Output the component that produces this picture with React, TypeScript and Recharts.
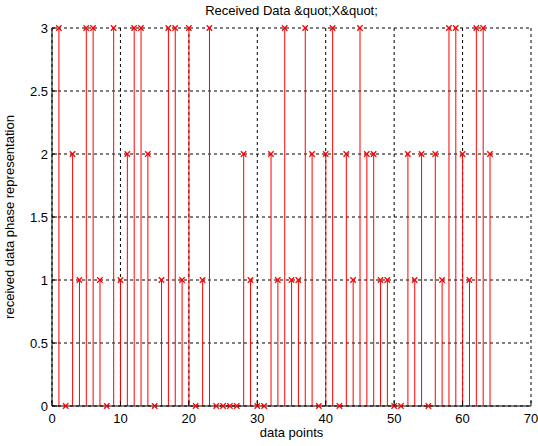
import { ComposedChart, Bar, Scatter, XAxis, YAxis, CartesianGrid } from 'recharts';

const WIDTH = 538;
const HEIGHT = 446;
const FONT = '"Liberation Sans", Arial, sans-serif';
const RED = '#ff0000';

// sample index along the received stream
const dataPoints = [
  1, 2, 3, 4, 5, 6, 7, 8, 9, 10, 11, 12, 13, 14, 15, 16,
  17, 18, 19, 20, 21, 22, 23, 24, 25, 26, 27, 28, 29, 30, 31, 32,
  33, 34, 35, 36, 37, 38, 39, 40, 41, 42, 43, 44, 45, 46, 47, 48,
  49, 50, 51, 52, 53, 54, 55, 56, 57, 58, 59, 60, 61, 62, 63, 64,
];

// phase symbol
const phaseValues = [
  3, 0, 2, 1, 3, 3, 1, 0, 3, 1, 2, 3, 3, 2, 0, 1,
  3, 3, 1, 3, 0, 1, 3, 0, 0, 0, 0, 2, 1, 0, 0, 2,
  1, 3, 1, 1, 3, 2, 0, 2, 3, 0, 2, 1, 3, 2, 2, 1,
  1, 0, 0, 2, 1, 2, 0, 2, 1, 3, 3, 2, 1, 3, 3, 2,
];

const xTicks = [0, 10, 20, 30, 40, 50, 60, 70];
const yTicks = [0, 0.5, 1, 1.5, 2, 2.5, 3];

const data = dataPoints.map((x, i) => ({ x, y: phaseValues[i] }));

const BottomTick = ({ x, y, payload }: any) => (
  <g>
    <line x1={x} y1={y} x2={x} y2={y - 5} stroke="#000" />
    <text x={x} y={y + 17} textAnchor="middle" fontSize={13} fontFamily={FONT} fill="#000">
      {payload.value}
    </text>
  </g>
);

const TopTick = ({ x, y }: any) => <line x1={x} y1={y} x2={x} y2={y + 5} stroke="#000" />;

const LeftTick = ({ x, y, payload }: any) => (
  <g>
    <line x1={x} y1={y} x2={x + 5} y2={y} stroke="#000" />
    <text x={x - 4} y={y + 4.5} textAnchor="end" fontSize={13} fontFamily={FONT} fill="#000">
      {payload.value}
    </text>
  </g>
);

const RightTick = ({ x, y }: any) => <line x1={x} y1={y} x2={x - 5} y2={y} stroke="#000" />;

const Cross = ({ cx, cy }: any) => (
  <g stroke={RED} strokeWidth={1.3}>
    <line x1={cx - 2.7} y1={cy - 2.7} x2={cx + 2.7} y2={cy + 2.7} />
    <line x1={cx - 2.7} y1={cy + 2.7} x2={cx + 2.7} y2={cy - 2.7} />
  </g>
);

export default function App() {
  return (
    <div style={{ position: 'absolute', left: 0, top: 0, width: WIDTH, height: HEIGHT, background: '#fff' }}>
      <ComposedChart
        width={WIDTH}
        height={HEIGHT}
        data={data}
        margin={{ top: 28, right: 7, bottom: 0, left: 0 }}
      >
        <CartesianGrid stroke="#000" strokeDasharray="3 3" />
        <XAxis
          dataKey="x"
          type="number"
          domain={[0, 70]}
          ticks={xTicks}
          height={40}
          tickSize={0}
          tickMargin={0}
          tickLine={false}
          axisLine={{ stroke: '#000' }}
          tick={<BottomTick />}
          interval={0}
        />
        <XAxis
          xAxisId="top"
          orientation="top"
          dataKey="x"
          type="number"
          domain={[0, 70]}
          ticks={xTicks}
          height={0}
          tickSize={0}
          tickMargin={0}
          tickLine={false}
          axisLine={{ stroke: '#000' }}
          tick={<TopTick />}
          interval={0}
        />
        <YAxis
          type="number"
          domain={[0, 3]}
          ticks={yTicks}
          width={52}
          tickSize={0}
          tickMargin={0}
          tickLine={false}
          axisLine={{ stroke: '#000' }}
          tick={<LeftTick />}
          interval={0}
        />
        <YAxis
          yAxisId="right"
          orientation="right"
          type="number"
          domain={[0, 3]}
          ticks={yTicks}
          width={0}
          tickSize={0}
          tickMargin={0}
          tickLine={false}
          axisLine={{ stroke: '#000' }}
          tick={<RightTick />}
          interval={0}
        />
        <Bar dataKey="y" barSize={1} fill={RED} isAnimationActive={false} />
        <Scatter dataKey="y" shape={<Cross />} isAnimationActive={false} />
      </ComposedChart>
      <svg
        width={WIDTH}
        height={HEIGHT}
        style={{ position: 'absolute', left: 0, top: 0, pointerEvents: 'none' }}
        fontFamily={FONT}
        fontSize={13}
      >
        <text x={291.5} y={15} textAnchor="middle" fill="#000">
          Received Data &amp;quot;X&amp;quot;
        </text>
        <text x={291.5} y={437} textAnchor="middle" fill="#000">
          data points
        </text>
        <text transform="translate(14,217) rotate(-90)" textAnchor="middle" fill="#000">
          received data phase representation
        </text>
      </svg>
    </div>
  );
}
